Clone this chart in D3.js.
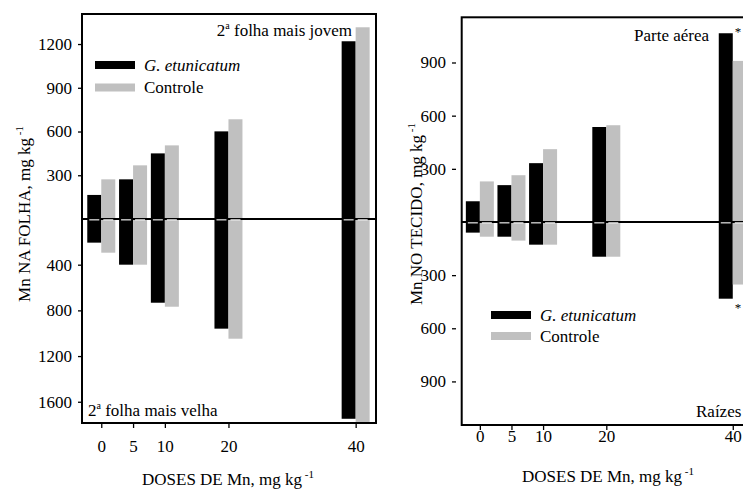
<!DOCTYPE html>
<html>
<head>
<meta charset="utf-8">
<script src="https://cdn.jsdelivr.net/npm/d3@7"></script>
<style>
  html, body { margin: 0; padding: 0; background: #fff; }
  svg { display: block; }
  svg text { font-family: "Liberation Serif", "Times New Roman", Times, "DejaVu Serif", serif !important; fill: #000; }
</style>
</head>
<body>
<svg id="chart" width="743" height="489"></svg>
<script>
// Mn doses applied to the soil (mg kg-1)
const doses = [0, 5, 10, 20, 40];

// Left panel: Mn in leaves (mg kg-1)
const youngLeafGeo  = [165, 272, 450, 601, 1219];  // 2ª folha mais jovem, G. etunicatum
const youngLeafCtrl = [272, 368, 505, 684, 1315];  // 2ª folha mais jovem, Controle
const oldLeafGeo    = [207, 400, 733, 960, 1749];  // 2ª folha mais velha, G. etunicatum
const oldLeafCtrl   = [295, 400, 768, 1048, 1800]; // 2ª folha mais velha, Controle

// Right panel: Mn in tissue (mg kg-1)
const shootGeo  = [117, 208, 332, 536, 1065];
const shootCtrl = [229, 264, 411, 546, 909];
const rootGeo   = [60, 83, 128, 196, 433];
const rootCtrl  = [83, 105, 128, 196, 353];

// Tick labels
const leafTopTicks = [300, 600, 900, 1200];
const leafBotTicks = [400, 800, 1200, 1600];
const tissueTopTicks = [300, 600, 900];
const tissueBotTicks = [300, 600, 900];

const seriesNames = ["G. etunicatum", "Controle"];
const colors = ["#000000", "#c0c0c0"];

const svg = d3.select("#chart");
const FS = 17;

function panel(cfg) {
  const g = svg.append("g");
  const { left, right, top, bottom, zeroY } = cfg;

  const x = d3.scaleLinear().domain(cfg.xDomain).range([left, right]);
  const yTop = d3.scaleLinear().domain([0, cfg.topMax]).range([zeroY, top]);
  const yBot = d3.scaleLinear().domain([0, cfg.botMax]).range([zeroY, bottom]);
  const bw = 14;

  const clipId = "clip-" + cfg.id;
  svg.append("defs").append("clipPath").attr("id", clipId)
    .append("rect").attr("x", left).attr("y", top)
    .attr("width", right - left).attr("height", bottom - top);

  const bars = g.append("g").attr("clip-path", `url(#${clipId})`);
  const sets = [
    { vals: cfg.topGeo, s: yTop, k: 0, up: true },
    { vals: cfg.topCtrl, s: yTop, k: 1, up: true },
    { vals: cfg.botGeo, s: yBot, k: 0, up: false },
    { vals: cfg.botCtrl, s: yBot, k: 1, up: false }
  ];
  sets.forEach(set => {
    bars.selectAll(null).data(doses.map((d, i) => ({ d, v: set.vals[i] })))
      .join("rect")
      .attr("x", p => set.k === 0 ? x(p.d) - bw : x(p.d))
      .attr("width", bw)
      .attr("y", p => set.up ? set.s(p.v) : set.s(0))
      .attr("height", p => Math.abs(set.s(p.v) - set.s(0)))
      .attr("fill", colors[set.k]);
  });

  // zero line with a thin white separation across each bar
  g.append("line").attr("x1", left).attr("x2", right)
    .attr("y1", zeroY).attr("y2", zeroY)
    .attr("stroke", "#000").attr("stroke-width", 2);
  const sep = g.append("g").attr("clip-path", `url(#${clipId})`);
  [0, 1].forEach(k => {
    sep.selectAll(null).data(doses).join("rect")
      .attr("x", d => (k === 0 ? x(d) - bw : x(d)) + 2)
      .attr("width", bw - 4)
      .attr("y", zeroY + 0.3).attr("height", 1.1)
      .attr("fill", "#fff");
  });

  // frame
  g.append("rect").attr("x", left).attr("y", top)
    .attr("width", right - left).attr("height", bottom - top)
    .attr("fill", "none").attr("stroke", "#000").attr("stroke-width", 2);

  // y axes (upper and lower halves)
  [[yTop, cfg.topTicks], [yBot, cfg.botTicks]].forEach(([s, tv]) => {
    const ax = g.append("g").attr("transform", `translate(${cfg.yAxisX},0)`)
      .call(d3.axisLeft(s).tickValues(tv).tickSize(4).tickPadding(cfg.yPad).tickFormat(d3.format("d")));
    ax.attr("font-family", null);
    ax.select(".domain").remove();
    ax.selectAll("line").attr("stroke", "#000").attr("stroke-width", 1.3);
    ax.selectAll("text").attr("font-size", FS).attr("fill", "#000");
  });

  // x axis
  const xa = g.append("g").attr("transform", `translate(0,${bottom})`)
    .call(d3.axisBottom(x).tickValues(doses).tickSize(5).tickFormat(d3.format("d")));
  xa.attr("font-family", null);
  xa.select(".domain").remove();
  xa.selectAll("line").attr("stroke", "#000").attr("stroke-width", 1.3);
  xa.selectAll("text").attr("font-size", FS)
    .attr("fill", "#000").attr("y", cfg.xLabelBase - bottom).attr("dy", 0);

  // axis titles
  const xt = g.append("text").attr("x", cfg.xTitleX).attr("y", cfg.xTitleY)
    .attr("text-anchor", "middle").attr("font-size", FS);
  xt.append("tspan").text("DOSES DE Mn, mg kg");
  xt.append("tspan").attr("font-size", 11).attr("dy", -7).text(" -1");

  const yt = g.append("text")
    .attr("transform", `translate(${cfg.yTitleX},${cfg.yTitleY}) rotate(-90)`)
    .attr("text-anchor", "middle").attr("font-size", FS);
  yt.append("tspan").text(cfg.yTitle);
  yt.append("tspan").attr("font-size", 11).attr("dy", -7).text(" -1");

  // legend
  const lg = g.append("g");
  seriesNames.forEach((n, i) => {
    const ly = cfg.legendY + i * cfg.legendGap;
    lg.append("rect").attr("x", cfg.legendX).attr("y", ly - 4).attr("width", 40).attr("height", 8)
      .attr("fill", colors[i]);
    lg.append("text").attr("x", cfg.legendX + 49).attr("y", ly + 5.5)
      .attr("font-size", FS).attr("font-style", i === 0 ? "italic" : "normal").text(n);
  });

  return { g, x, yTop, yBot };
}

// ---- left panel: leaves ----
const L = panel({
  id: "leaf", left: 82, right: 376, top: 14, bottom: 423, zeroY: 219,
  xDomain: [-3.03, 43.2], topMax: 1406, botMax: 1786,
  topGeo: youngLeafGeo, topCtrl: youngLeafCtrl, botGeo: oldLeafGeo, botCtrl: oldLeafCtrl,
  topTicks: leafTopTicks, botTicks: leafBotTicks,
  yAxisX: 82, yPad: 6, xLabelBase: 452,
  xTitleX: 228, xTitleY: 485,
  yTitleX: 30, yTitleY: 214, yTitle: "Mn NA FOLHA, mg kg",
  legendX: 95, legendY: 65, legendGap: 22.5
});

function supLabel(g, xPos, yPos, anchor, before, sup, after) {
  const t = g.append("text").attr("x", xPos).attr("y", yPos)
    .attr("text-anchor", anchor).attr("font-size", FS);
  t.append("tspan").text(before);
  t.append("tspan").attr("font-size", 10).attr("dy", -7).text(sup);
  t.append("tspan").attr("dy", 7).text(after);
}
supLabel(L.g, 352, 36, "end", "2", "a", " folha mais jovem");
supLabel(L.g, 88, 416, "start", "2", "a", " folha mais velha");

// ---- right panel: plant tissue ----
const R = panel({
  id: "tissue", left: 461.7, right: 753, top: 17.3, bottom: 425, zeroY: 222,
  xDomain: [-2.87, 43.2], topMax: 1155, botMax: 1146,
  topGeo: shootGeo, topCtrl: shootCtrl, botGeo: rootGeo, botCtrl: rootCtrl,
  topTicks: tissueTopTicks, botTicks: tissueBotTicks,
  yAxisX: 456, yPad: 6, xLabelBase: 442,
  xTitleX: 608, xTitleY: 482,
  yTitleX: 422, yTitleY: 214, yTitle: "Mn NO TECIDO, mg kg",
  legendX: 491, legendY: 315, legendGap: 21
});
R.g.append("text").attr("x", 634).attr("y", 41).attr("font-size", FS).text("Parte aérea");
R.g.append("text").attr("x", 696).attr("y", 417).attr("font-size", FS).text("Raízes");
// significance marks at the highest dose
R.g.append("text").attr("x", R.x(40) + 2).attr("y", R.yTop(shootGeo[4]) + 3)
  .attr("font-size", 13).text("*");
R.g.append("text").attr("x", R.x(40) + 2).attr("y", R.yBot(rootGeo[4]) + 13)
  .attr("font-size", 13).text("*");
</script>
</body>
</html>
